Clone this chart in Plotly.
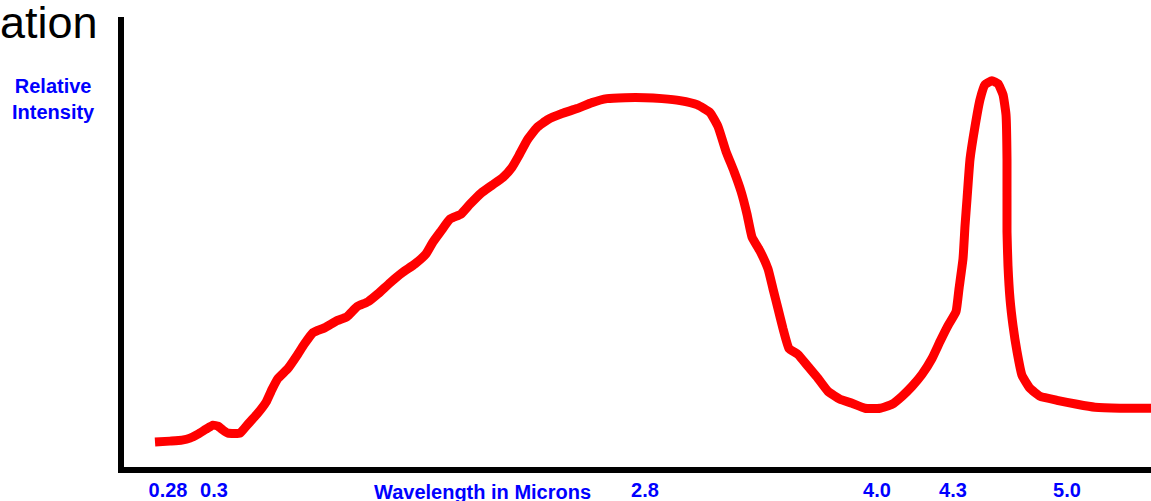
import plotly.graph_objects as go

# Curve: x = position along the (non-linear) wavelength axis,
# y = relative intensity (arbitrary units, 0 at the axis)
pos = [3.2, 4.7, 5.9, 6.7, 7.5, 8.3, 9.0, 9.5, 10.0, 10.5, 11.7, 12.4, 13.4, 14.3, 14.9,
       15.5, 16.5, 17.4, 18.1, 19.0, 20.2, 21.4, 22.4, 23.4, 24.5, 25.5, 26.7, 27.9, 29.2,
       30.3, 31.0, 31.8, 32.7, 33.8, 34.7, 35.8, 36.9, 38.0, 38.9, 39.6, 40.4, 41.4, 42.5,
       43.9, 45.4, 46.9, 48.4, 50.2, 52.2, 53.9, 55.7, 57.4, 58.7, 59.5, 60.3, 61.1, 61.8,
       62.4, 62.9, 63.7, 64.5, 65.0, 65.5, 66.0, 66.6, 67.5, 68.5, 69.5, 70.5, 71.7, 72.9,
       74.2, 75.7, 76.9, 77.9, 78.9, 79.9, 80.9, 81.7, 82.5, 83.3, 83.6, 84.0, 84.2, 84.4,
       84.7, 85.2, 85.7, 86.2, 86.9, 87.5, 88.0, 88.3, 88.4, 88.4, 88.5, 88.7, 89.0, 89.4,
       89.9, 90.7, 91.7, 93.4, 95.4, 97.2, 99.7, 102.8]
intensity = [6.25, 6.5, 6.75, 7.25, 8.25, 9.5, 10.5, 10.25, 9.25, 8.5, 8.5, 10.5, 13.25, 16.25,
             19.5, 22.25, 24.75, 28, 30.75, 33.75, 35, 36.75, 37.75, 40.25, 41.5, 43.5, 46.25,
             48.75, 51, 53.5, 56.5, 59.25, 62.25, 63.5, 66, 68.75, 70.75, 72.75, 75.25, 78.25,
             82, 85.25, 87.25, 88.75, 90, 91.5, 92.5, 92.75, 92.75, 92.5, 92, 91, 89, 85.5,
             79.25, 74.25, 69.25, 63.5, 57.75, 54.25, 49.75, 44.75, 39.75, 34.75, 29.75, 28.25,
             25.25, 22.25, 19, 17, 16, 14.75, 14.75, 15.75, 17.75, 20.25, 23.25, 27.25, 31.5,
             35.5, 39, 44.75, 52.25, 60.5, 67.25, 77.25, 85.5, 92.25, 96, 97, 96.25, 93.5, 88.5,
             77.25, 59, 50.5, 42.25, 35.5, 29, 23, 19.75, 17.75, 16.75, 15.75, 15, 14.75, 14.75]

tick_pos = [4.5, 9.1, 52.2, 75.4, 83.0, 94.4]
tick_text = ["0.28", "0.3", "2.8", "4.0", "4.3", "5.0"]

BLUE = "#0000ff"
LBL_FONT = dict(family="Liberation Sans, Arial, sans-serif", size=20, color=BLUE, weight="bold")

fig = go.Figure(go.Scatter(
    x=pos, y=intensity, mode="lines",
    line=dict(color="#ff0000", width=9, shape="spline", smoothing=0.4),
    hoverinfo="skip",
))

fig.update_layout(
    width=1151, height=501,
    margin=dict(l=124, r=0, t=17, b=32),
    plot_bgcolor="white", paper_bgcolor="white",
    showlegend=False,
    xaxis=dict(range=[0.1, 102.8], showgrid=False, zeroline=False,
               showline=True, linecolor="black", linewidth=6,
               tickmode="array", tickvals=tick_pos, ticktext=tick_text,
               ticks="", tickfont=LBL_FONT, ticklabelstandoff=0),
    yaxis=dict(range=[0, 113], showgrid=False, zeroline=False,
               showline=True, linecolor="black", linewidth=6,
               showticklabels=False, ticks=""),
    annotations=[
        # title cut off at the left edge, as in the source picture
        dict(text="ation", xref="paper", yref="paper", x=-24 / 1027, y=1 + 17 / 452,
             xanchor="right", yanchor="top", yshift=5, showarrow=False,
             font=dict(family="Liberation Sans, Arial, sans-serif", size=45, color="black")),
        dict(text="Relative<br>Intensity", xref="paper", yref="paper",
             x=-71 / 1027, y=1 - 56 / 452, xanchor="center", yanchor="top",
             showarrow=False, align="center", font=LBL_FONT),
        dict(text="Wavelength in Microns", xref="paper", yref="paper",
             x=358 / 1027, y=0, xanchor="center", yanchor="top", yshift=-12,
             showarrow=False, font=LBL_FONT),
    ],
)

# the page has no body margin, so the figure sits at the window's top-left corner
fig.write_html("out.html", config={"displayModeBar": False},
               post_script="document.body.style.margin = '0';")
